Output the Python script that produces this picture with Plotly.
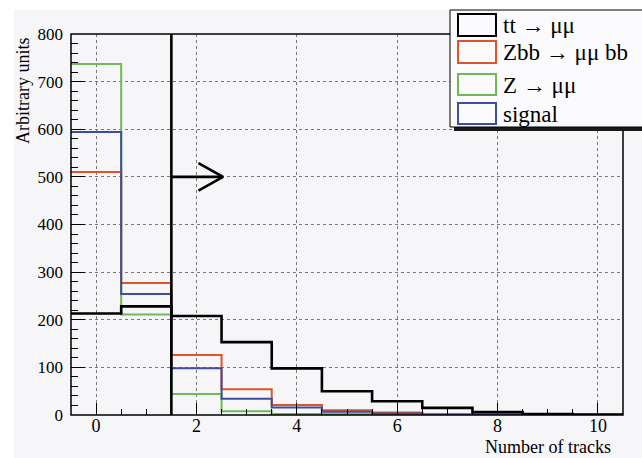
import plotly.graph_objects as go

# ---------------- data ----------------
bin_centers = [0, 1, 2, 3, 4, 5, 6, 7, 8, 9, 10]
tt_mumu   = [213, 228, 208, 153, 98, 50, 29, 15, 6, 2, 1]
zbb_mumu  = [510, 277, 126, 54, 21, 10, 5, 1, 0.5, 0.3, 0.2]
z_mumu    = [737, 211, 44, 8, 2, 2, 1, 0.5, 0.3, 0.2, 0.1]
signal    = [594, 254, 98, 34, 16, 7, 3, 1, 0.8, 0.5, 0.3]
series_names = ["tt \u2192 \u03bc\u03bc", "Zbb \u2192 \u03bc\u03bc bb", "Z \u2192 \u03bc\u03bc", "signal"]
cut_x = 1.5
arrow_y = 500
x_tick_vals = [0, 2, 4, 6, 8, 10]
y_tick_vals = [0, 100, 200, 300, 400, 500, 600, 700, 800]

colors = ["#000000", "#e0532b", "#72b857", "#3d4f9c"]
widths = [2.6, 2.0, 2.0, 2.0]

W, H = 642, 458
L, R, T, B = 71, 19, 34, 43
FONT = "Liberation Serif"

def edges_of(centers):
    return [c - 0.5 for c in centers] + [centers[-1] + 0.5]

fig = go.Figure()

edges = edges_of(bin_centers)
order = [2, 1, 3, 0]
all_series = [tt_mumu, zbb_mumu, z_mumu, signal]
for i in order:
    vals = all_series[i]
    fig.add_trace(go.Scatter(
        x=edges, y=list(vals) + [vals[-1]],
        mode="lines", line=dict(shape="hv", color=colors[i], width=widths[i]),
        showlegend=False, hoverinfo="skip"))

# cut line and arrow
fig.add_trace(go.Scatter(x=[cut_x, cut_x], y=[0, 800], mode="lines",
                         line=dict(color="black", width=2.6), showlegend=False))
tip = cut_x + 1.03
fig.add_trace(go.Scatter(x=[cut_x, tip], y=[arrow_y, arrow_y], mode="lines",
                         line=dict(color="black", width=2.6), showlegend=False))
fig.add_trace(go.Scatter(x=[tip - 0.49, tip, tip - 0.49],
                         y=[arrow_y + 29, arrow_y, arrow_y - 29], mode="lines",
                         line=dict(color="black", width=2.6), showlegend=False))

pw = W - L - R
ph = H - T - B
def px(xp):
    return (xp - L) / pw
def py(yp):
    return (H - B - yp) / ph

shapes = []
shapes.append(dict(type="rect", xref="paper", yref="paper",
                   x0=px(14), x1=px(W + 5), y0=py(10), y1=py(H + 5),
                   fillcolor="#f6f6f8", line=dict(width=0), layer="below"))
shapes.append(dict(type="rect", xref="paper", yref="paper",
                   x0=0, x1=1, y0=0, y1=1,
                   fillcolor="rgba(0,0,0,0)", line=dict(color="black", width=1.5)))
shapes.append(dict(type="rect", xref="paper", yref="paper",
                   x0=px(454), x1=px(W + 10), y0=py(131), y1=py(14),
                   fillcolor="#1a1a1a", line=dict(width=0)))
shapes.append(dict(type="rect", xref="paper", yref="paper",
                   x0=px(450), x1=px(W + 10), y0=py(127), y1=py(10),
                   fillcolor="#fbfbfd", line=dict(color="black", width=1)))
rows = [(14, 36), (41, 63), (74, 95), (103, 124)]
annotations = []
for k, (y0, y1) in enumerate(rows):
    shapes.append(dict(type="rect", xref="paper", yref="paper",
                       x0=px(458), x1=px(496), y0=py(y1), y1=py(y0),
                       fillcolor="#fbfbfd", line=dict(color=colors[k], width=2)))
    annotations.append(dict(xref="paper", yref="paper", x=px(501), y=py((y0 + y1) / 2 + 1),
                            text=series_names[k], showarrow=False, xanchor="left",
                            yanchor="middle", font=dict(family=FONT, size=23, color="black")))

annotations.append(dict(xref="paper", yref="paper", x=px(23), y=py(36),
                        text="Arbitrary units", textangle=-90, showarrow=False,
                        xanchor="center", yanchor="top",
                        font=dict(family=FONT, size=18, color="black")))
annotations.append(dict(xref="paper", yref="paper", x=px(613), y=py(447),
                        text="Number of tracks", showarrow=False,
                        xanchor="right", yanchor="middle",
                        font=dict(family=FONT, size=18, color="black")))

fig.update_layout(
    width=W, height=H,
    margin=dict(l=L, r=R, t=T, b=B, pad=0),
    paper_bgcolor="white", plot_bgcolor="rgba(0,0,0,0)",
    shapes=shapes, annotations=annotations, showlegend=False,
    font=dict(family=FONT, color="black"),
)
fig.update_xaxes(range=[-0.5, 10.5], tickvals=x_tick_vals, ticks="inside", ticklen=12,
                 tickwidth=1.2, tickcolor="black", ticklabelstandoff=-2,
                 minor=dict(dtick=0.5, ticks="inside", ticklen=6, tickcolor="black", showgrid=False),
                 showline=False,
                 showgrid=True, gridcolor="#777777", griddash="dot", gridwidth=1,
                 zeroline=False, tickfont=dict(family=FONT, size=18, color="black"))
fig.update_yaxes(range=[0, 800], tickvals=y_tick_vals, ticks="inside", ticklen=14,
                 tickwidth=1.2, tickcolor="black", ticklabelstandoff=7,
                 minor=dict(dtick=20, ticks="inside", ticklen=7, tickcolor="black", showgrid=False),
                 showline=False,
                 showgrid=True, gridcolor="#777777", griddash="dot", gridwidth=1,
                 zeroline=False, tickfont=dict(family=FONT, size=17, color="black"))

fig.write_html("out.html")
